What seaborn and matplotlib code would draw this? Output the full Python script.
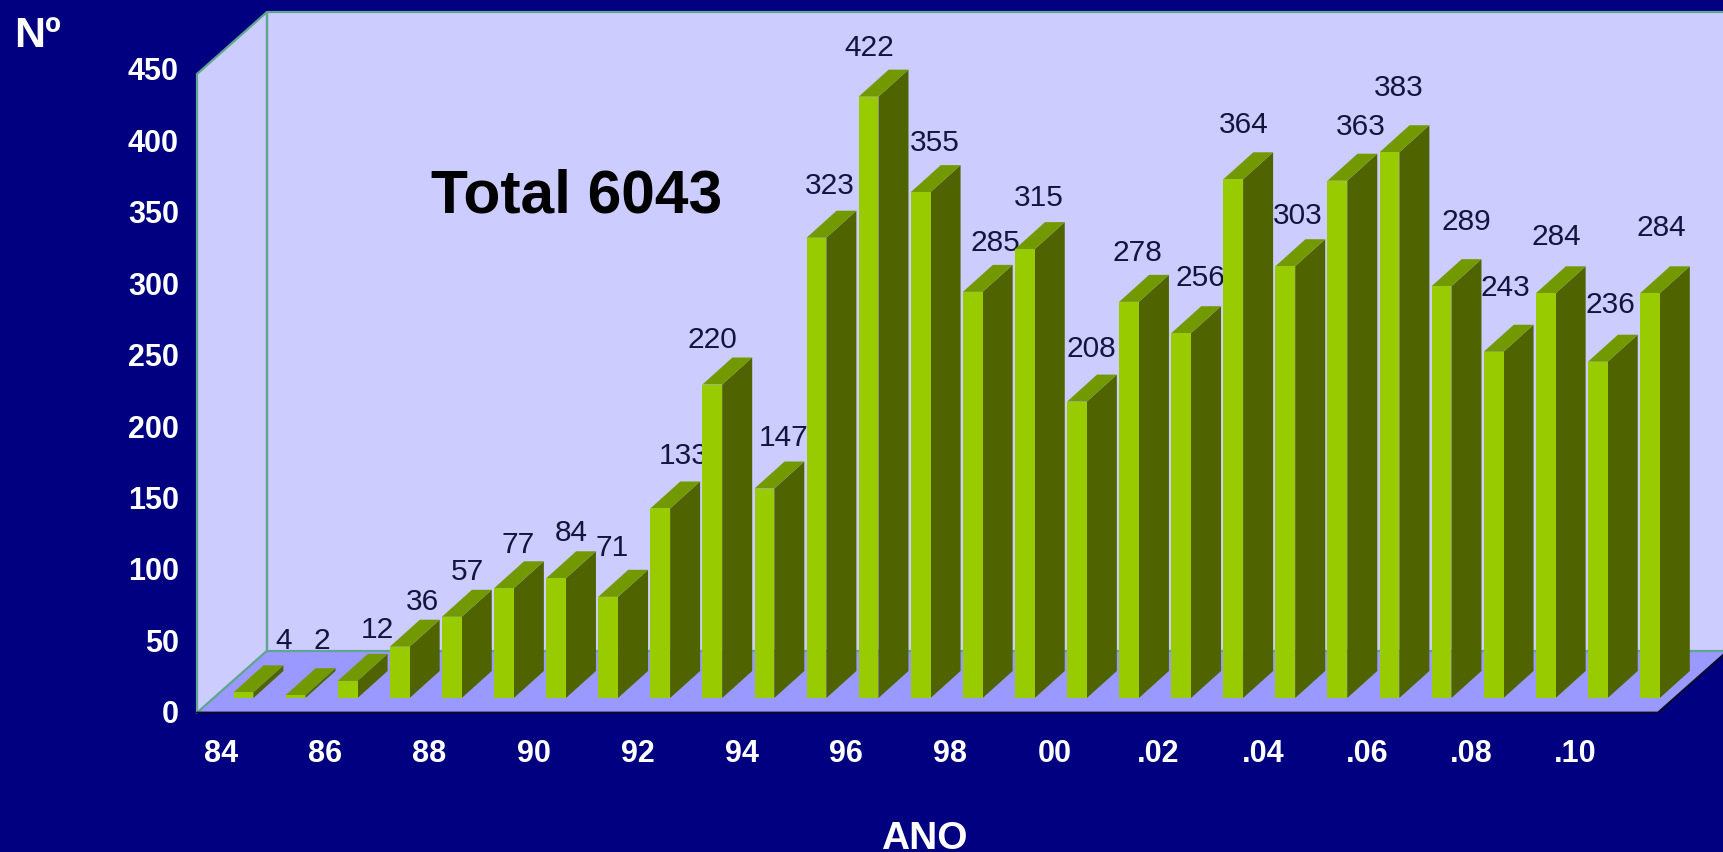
import numpy as np
import pandas as pd
import matplotlib
matplotlib.use("Agg")
import matplotlib.pyplot as plt
from matplotlib.patches import Polygon
from matplotlib.transforms import ScaledTranslation
import seaborn as sns

# ===================== Data =====================
positions = list(range(28))
values = [4, 2, 12, 36, 57, 77, 84, 71, 133, 220, 147, 323, 422, 355,
          285, 315, 208, 278, 256, 364, 303, 363, 383, 289, 243, 284, 236, 284]
year_labels = ['84', '86', '88', '90', '92', '94', '96', '98', '00',
               '.02', '.04', '.06', '.08', '.10']
y_ticks = [0, 50, 100, 150, 200, 250, 300, 350, 400, 450]

# label nudges relative to the bar top, in pixels
label_dx = [41, 27, 31, 24, 17, 15, 16, 5, 24, 1, 20, 14, 2, 15,
            24, 15, 15, 9, 20, 12, 13, 24, 10, 26, 13, 12, 14, 12]
label_up = [51, 54, 51, 45, 45, 43, 45, 49, 52, 44, 51, 52, 49, 49,
            49, 51, 53, 49, 55, 54, 50, 54, 64, 64, 64, 56, 57, 65]

# ===================== Style =====================
W, H = 1723, 852
NAVY = '#000080'
WALL = '#CCCCFF'
FLOOR = '#9999FF'
EDGE = '#5FA58F'
FRONT = '#99CC00'
SIDE = '#4F6300'
TOP = '#739900'

sns.set_theme(style='white')
plt.rcParams['font.family'] = ['Liberation Sans', 'DejaVu Sans']

fig = plt.figure(figsize=(W / 100, H / 100), dpi=100, facecolor=NAVY)

# ===================== Front frame: ticks, walls, floor =====================
fx0, fx1, fy_top, fy_bot = 197, 1658, 74, 712.7
ax_front = fig.add_axes([fx0 / W, 1 - fy_bot / H, (fx1 - fx0) / W, (fy_bot - fy_top) / H])
ax_front.set_facecolor('none')
step_x = 52.09
ax_front.set_xlim((fx0 - 221) / step_x, (fx1 - 221) / step_x)
ax_front.set_ylim(0, 450)
x0, x1 = ax_front.get_xlim()
depth_x = 70 / step_x
depth_y = 62 / ((fy_bot - fy_top) / 450)

left_wall = [(x0, 0), (x0 + depth_x, depth_y), (x0 + depth_x, 450 + depth_y), (x0, 450)]
back_wall = [(x0 + depth_x, depth_y), (x1 + depth_x, depth_y),
             (x1 + depth_x, 450 + depth_y), (x0 + depth_x, 450 + depth_y)]
floor = [(x0, 0), (x1, 0), (x1 + depth_x, depth_y), (x0 + depth_x, depth_y)]
for pts, col in [(left_wall, WALL), (back_wall, WALL), (floor, FLOOR)]:
    ax_front.add_patch(Polygon(pts, closed=True, facecolor=col, edgecolor='none',
                               clip_on=False, zorder=1))
for pts in [left_wall, back_wall]:
    xs, ys = zip(*pts)
    ax_front.plot(list(xs) + [xs[0]], list(ys) + [ys[0]], color=EDGE, lw=1.6,
                  clip_on=False, zorder=2)
ax_front.plot([x0, x1, x1 + depth_x], [0, 0, depth_y], color='#0A0A30', lw=1.6,
              clip_on=False, zorder=3)

for spine in ax_front.spines.values():
    spine.set_visible(False)
ax_front.set_yticks(y_ticks)
ax_front.set_yticklabels([str(v) for v in y_ticks], color='white', fontweight='bold', fontsize=22)
ax_front.set_xticks(positions[::2])
ax_front.set_xticklabels(year_labels, color='white', fontweight='bold', fontsize=22)
ax_front.tick_params(axis='y', length=0, pad=13)
ax_front.tick_params(axis='x', length=0, pad=19)
# the y labels run a little wider than the axis itself
for tick_val, lab in zip(y_ticks, ax_front.get_yticklabels()):
    shift = ScaledTranslation(0, (1 + 4 * tick_val / 450) / 100, fig.dpi_scale_trans)
    lab.set_transform(lab.get_transform() + shift)

# ===================== Bars =====================
# full-figure axes: bar baseline sits inside the floor, so it has its own scale
scale_y = 1.425
ax = fig.add_axes([0, 0, 1, 1], zorder=5)
ax.set_facecolor('none')
df = pd.DataFrame({'pos': positions, 'value': values})
sns.barplot(data=df, x='pos', y='value', color=FRONT, saturation=1, width=0.38,
            legend=False, ax=ax)
ax.set_xlim((0 - 243.5) / step_x, (W - 243.5) / step_x)
ax.set_ylim((698 - H) / scale_y, 698 / scale_y)
ax.axis('off')

bar_dx = 30 / step_x
bar_dy = 27 / scale_y
for i, (bar, val) in enumerate(zip(ax.patches, values)):
    xl = bar.get_x()
    xr = xl + bar.get_width()
    z = 10 + i * 3
    bar.set_zorder(z + 1)
    bar.set_edgecolor('none')
    side = [(xr, 0), (xr + bar_dx, bar_dy), (xr + bar_dx, val + bar_dy), (xr, val)]
    top = [(xl, val), (xr, val), (xr + bar_dx, val + bar_dy), (xl + bar_dx, val + bar_dy)]
    ax.add_patch(Polygon(side, closed=True, facecolor=SIDE, edgecolor='none', zorder=z))
    ax.add_patch(Polygon(top, closed=True, facecolor=TOP, edgecolor='none', zorder=z))
    # drawn before the next bar, which hides the end of some labels
    ax.annotate(str(val), xy=(positions[i], val),
                xytext=((label_dx[i] - 1) * 0.72, label_up[i] * 0.72),
                textcoords='offset points', ha='center', va='center',
                fontsize=21.5, color='#14143C', zorder=z + 2)

# ===================== Free text =====================
fig.text(431 / W, 1 - 197 / H, 'Total 6043', fontsize=43.6, fontweight='bold',
         color='black', ha='left', va='center', zorder=20)
fig.text(14 / W, 1 - 36 / H, 'Nº', fontsize=31, fontweight='bold',
         color='white', ha='left', va='center')
fig.text(924 / W, 1 - 849 / H, 'ANO', fontsize=28, fontweight='bold',
         color='white', ha='center', va='baseline')

fig.savefig('out.png', dpi=100, facecolor=NAVY)
